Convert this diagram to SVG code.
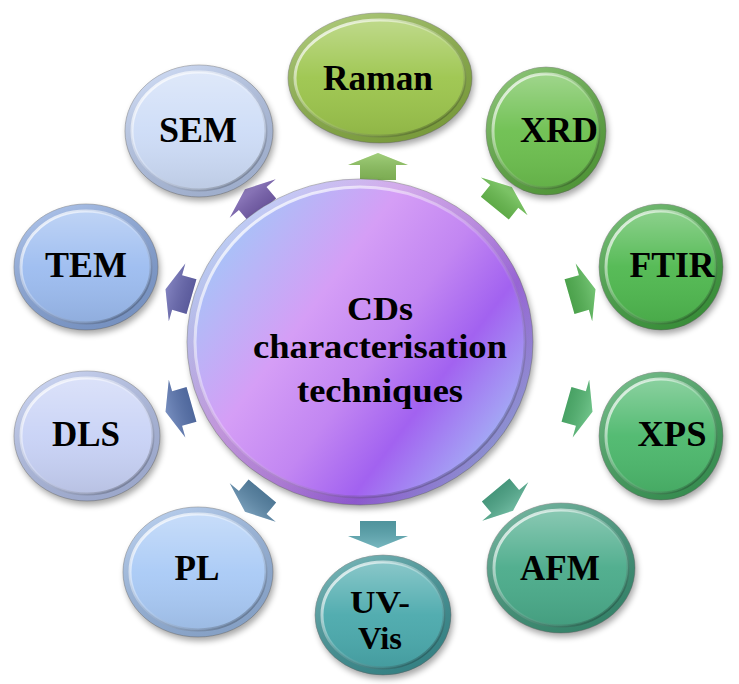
<svg xmlns="http://www.w3.org/2000/svg" width="739" height="684" viewBox="0 0 739 684">
<defs>
  <filter id="sh" x="-20%" y="-20%" width="140%" height="140%">
    <feGaussianBlur stdDeviation="3"/>
  </filter>
  <linearGradient id="gloss" x1="0" y1="0" x2="0" y2="1">
    <stop offset="0" stop-color="#fff" stop-opacity="0.35"/>
    <stop offset="0.5" stop-color="#fff" stop-opacity="0.05"/>
    <stop offset="1" stop-color="#000" stop-opacity="0.08"/>
  </linearGradient>
  <linearGradient id="bevel" x1="0.15" y1="0.1" x2="0.85" y2="0.9">
    <stop offset="0" stop-color="#fff" stop-opacity="0.75"/>
    <stop offset="0.5" stop-color="#fff" stop-opacity="0.15"/>
    <stop offset="1" stop-color="#000" stop-opacity="0.25"/>
  </linearGradient>
  <linearGradient id="rimg" x1="0.2" y1="0" x2="0.8" y2="1">
    <stop offset="0" stop-color="#fff" stop-opacity="0.3"/>
    <stop offset="1" stop-color="#000" stop-opacity="0.15"/>
  </linearGradient>
  <linearGradient id="core" x1="0" y1="0.15" x2="1" y2="0.85">
    <stop offset="0" stop-color="#9cccf8"/>
    <stop offset="0.35" stop-color="#d59ef6"/>
    <stop offset="0.55" stop-color="#c286f2"/>
    <stop offset="0.72" stop-color="#a262f0"/>
    <stop offset="0.88" stop-color="#a49cf4"/>
    <stop offset="1" stop-color="#9ccaf8"/>
  </linearGradient>
  <linearGradient id="arrg" x1="0" y1="0" x2="0" y2="1">
    <stop offset="0" stop-color="#fff" stop-opacity="0.18"/>
    <stop offset="1" stop-color="#000" stop-opacity="0.12"/>
  </linearGradient>
  <path id="arrow" d="M0,-14 L30,-2 L18,-2 L18,13 L-18,13 L-18,-2 L-30,-2 Z"/>
</defs>
<style>
  .shadow { fill: #000; opacity: 0.35; filter: url(#sh); }
  .gloss { fill: url(#gloss); }
  .bev { fill: none; stroke: url(#bevel); stroke-width: 3; }
  .edge { stroke: #6b6b6b; stroke-opacity: 0.45; stroke-width: 1; }
  .rimo { fill: url(#rimg); }
</style>
<rect width="739" height="684" fill="#fff"/>

<g id="connectors">
  <g transform="translate(378,167) rotate(0)"><use href="#arrow" fill="#8dc45e"/><use href="#arrow" fill="url(#arrg)"/></g>
  <g transform="translate(503,198) rotate(39)"><use href="#arrow" fill="#6cc252"/><use href="#arrow" fill="url(#arrg)"/></g>
  <g transform="translate(582,293) rotate(74)"><use href="#arrow" fill="#56b856"/><use href="#arrow" fill="url(#arrg)"/></g>
  <g transform="translate(579,408) rotate(106)"><use href="#arrow" fill="#52b872"/><use href="#arrow" fill="url(#arrg)"/></g>
  <g transform="translate(504,500) rotate(140)"><use href="#arrow" fill="#50ab8c"/><use href="#arrow" fill="url(#arrg)"/></g>
  <g transform="translate(378,534) rotate(180)"><use href="#arrow" fill="#5aa8b2"/><use href="#arrow" fill="url(#arrg)"/></g>
  <g transform="translate(254,501) rotate(220)"><use href="#arrow" fill="#5a88aa"/><use href="#arrow" fill="url(#arrg)"/></g>
  <g transform="translate(179,408) rotate(254)"><use href="#arrow" fill="#5a76b2"/><use href="#arrow" fill="url(#arrg)"/></g>
  <g transform="translate(179,293) rotate(286)"><use href="#arrow" fill="#6868b2"/><use href="#arrow" fill="url(#arrg)"/></g>
  <g transform="translate(254,200) rotate(320)"><use href="#arrow" fill="#7a62b2"/><use href="#arrow" fill="url(#arrg)"/></g>
</g>

<g id="center">
  <ellipse class="shadow" cx="362" cy="346" rx="173" ry="163"/>
  <ellipse cx="360" cy="342" rx="173" ry="163" fill="url(#core)" class="edge"/>
  <ellipse class="rimo" cx="360" cy="342" rx="173" ry="163"/>
  <ellipse cx="360" cy="342" rx="165" ry="155" fill="url(#core)"/>
  <ellipse class="bev" cx="360" cy="342" rx="165" ry="155"/>
  <g font-family="Liberation Serif, DejaVu Serif, serif" font-weight="bold" font-size="34" text-anchor="middle" fill="#000">
    <text x="380" y="320" textLength="66" lengthAdjust="spacingAndGlyphs">CDs</text>
    <text x="380" y="358" textLength="254" lengthAdjust="spacingAndGlyphs">characterisation</text>
    <text x="380" y="402" textLength="166" lengthAdjust="spacingAndGlyphs">techniques</text>
  </g>
</g>

<g font-family="Liberation Serif, DejaVu Serif, serif" font-weight="bold" font-size="35" text-anchor="middle" fill="#000">
<g id="node-raman">
  <ellipse class="shadow" cx="382" cy="82" rx="92" ry="65"/>
  <ellipse cx="380" cy="78" rx="92" ry="65" fill="#8db544" class="edge"/>
  <ellipse class="rimo" cx="380" cy="78" rx="92" ry="65"/>
  <ellipse cx="380" cy="78" rx="85" ry="58" fill="#9cc54c"/>
  <ellipse class="gloss" cx="380" cy="78" rx="85" ry="58"/>
  <ellipse class="bev" cx="380" cy="78" rx="85" ry="58"/>
  <text x="378" y="90" textLength="110" lengthAdjust="spacingAndGlyphs">Raman</text>
</g>

<g id="node-xrd">
  <ellipse class="shadow" cx="548" cy="135" rx="60" ry="64"/>
  <ellipse cx="546" cy="131" rx="60" ry="64" fill="#5dae40" class="edge"/>
  <ellipse class="rimo" cx="546" cy="131" rx="60" ry="64"/>
  <ellipse cx="546" cy="131" rx="53" ry="57" fill="#6cbf4e"/>
  <ellipse class="gloss" cx="546" cy="131" rx="53" ry="57"/>
  <ellipse class="bev" cx="546" cy="131" rx="53" ry="57"/>
  <text x="559" y="142" textLength="78" lengthAdjust="spacingAndGlyphs">XRD</text>
</g>

<g id="node-ftir">
  <ellipse class="shadow" cx="663" cy="271" rx="62" ry="63"/>
  <ellipse cx="661" cy="267" rx="62" ry="63" fill="#40a540" class="edge"/>
  <ellipse class="rimo" cx="661" cy="267" rx="62" ry="63"/>
  <ellipse cx="661" cy="267" rx="55" ry="56" fill="#4fb84f"/>
  <ellipse class="gloss" cx="661" cy="267" rx="55" ry="56"/>
  <ellipse class="bev" cx="661" cy="267" rx="55" ry="56"/>
  <text x="672" y="277" textLength="85" lengthAdjust="spacingAndGlyphs">FTIR</text>
</g>

<g id="node-xps">
  <ellipse class="shadow" cx="663" cy="440" rx="62" ry="64"/>
  <ellipse cx="661" cy="436" rx="62" ry="64" fill="#3ea45c" class="edge"/>
  <ellipse class="rimo" cx="661" cy="436" rx="62" ry="64"/>
  <ellipse cx="661" cy="436" rx="55" ry="57" fill="#4cb86c"/>
  <ellipse class="gloss" cx="661" cy="436" rx="55" ry="57"/>
  <ellipse class="bev" cx="661" cy="436" rx="55" ry="57"/>
  <text x="672" y="446" textLength="69" lengthAdjust="spacingAndGlyphs">XPS</text>
</g>

<g id="node-afm">
  <ellipse class="shadow" cx="563" cy="572" rx="74" ry="65"/>
  <ellipse cx="561" cy="568" rx="74" ry="65" fill="#3c987a" class="edge"/>
  <ellipse class="rimo" cx="561" cy="568" rx="74" ry="65"/>
  <ellipse cx="561" cy="568" rx="67" ry="58" fill="#4aab8a"/>
  <ellipse class="gloss" cx="561" cy="568" rx="67" ry="58"/>
  <ellipse class="bev" cx="561" cy="568" rx="67" ry="58"/>
  <text x="560" y="580" textLength="80" lengthAdjust="spacingAndGlyphs">AFM</text>
</g>

<g id="node-uvvis">
  <ellipse class="shadow" cx="385" cy="619" rx="68" ry="60"/>
  <ellipse cx="383" cy="615" rx="68" ry="60" fill="#3c9699" class="edge"/>
  <ellipse class="rimo" cx="383" cy="615" rx="68" ry="60"/>
  <ellipse cx="383" cy="615" rx="61" ry="53" fill="#4aa9ac"/>
  <ellipse class="gloss" cx="383" cy="615" rx="61" ry="53"/>
  <ellipse class="bev" cx="383" cy="615" rx="61" ry="53"/>
  <text x="380" y="613" font-size="32" textLength="60" lengthAdjust="spacingAndGlyphs">UV-</text>
  <text x="380" y="649" font-size="32" textLength="44" lengthAdjust="spacingAndGlyphs">Vis</text>
</g>

<g id="node-pl">
  <ellipse class="shadow" cx="200" cy="576" rx="75" ry="65"/>
  <ellipse cx="198" cy="572" rx="75" ry="65" fill="#9cbce8" class="edge"/>
  <ellipse class="rimo" cx="198" cy="572" rx="75" ry="65"/>
  <ellipse cx="198" cy="572" rx="68" ry="58" fill="#a9caf6"/>
  <ellipse class="gloss" cx="198" cy="572" rx="68" ry="58"/>
  <ellipse class="bev" cx="198" cy="572" rx="68" ry="58"/>
  <text x="197" y="580" textLength="45" lengthAdjust="spacingAndGlyphs">PL</text>
</g>

<g id="node-dls">
  <ellipse class="shadow" cx="89" cy="440" rx="73" ry="65"/>
  <ellipse cx="87" cy="436" rx="73" ry="65" fill="#b6c4ee" class="edge"/>
  <ellipse class="rimo" cx="87" cy="436" rx="73" ry="65"/>
  <ellipse cx="87" cy="436" rx="66" ry="58" fill="#c8d2f6"/>
  <ellipse class="gloss" cx="87" cy="436" rx="66" ry="58"/>
  <ellipse class="bev" cx="87" cy="436" rx="66" ry="58"/>
  <text x="86" y="446" textLength="68" lengthAdjust="spacingAndGlyphs">DLS</text>
</g>

<g id="node-tem">
  <ellipse class="shadow" cx="88" cy="271" rx="72" ry="63"/>
  <ellipse cx="86" cy="267" rx="72" ry="63" fill="#8aaae2" class="edge"/>
  <ellipse class="rimo" cx="86" cy="267" rx="72" ry="63"/>
  <ellipse cx="86" cy="267" rx="65" ry="56" fill="#9cbcf0"/>
  <ellipse class="gloss" cx="86" cy="267" rx="65" ry="56"/>
  <ellipse class="bev" cx="86" cy="267" rx="65" ry="56"/>
  <text x="86" y="277" textLength="82" lengthAdjust="spacingAndGlyphs">TEM</text>
</g>

<g id="node-sem">
  <ellipse class="shadow" cx="201" cy="135" rx="74" ry="66"/>
  <ellipse cx="199" cy="131" rx="74" ry="66" fill="#baccf0" class="edge"/>
  <ellipse class="rimo" cx="199" cy="131" rx="74" ry="66"/>
  <ellipse cx="199" cy="131" rx="67" ry="59" fill="#cddcf7"/>
  <ellipse class="gloss" cx="199" cy="131" rx="67" ry="59"/>
  <ellipse class="bev" cx="199" cy="131" rx="67" ry="59"/>
  <text x="198" y="142" textLength="78" lengthAdjust="spacingAndGlyphs">SEM</text>
</g>
</g>
</svg>
